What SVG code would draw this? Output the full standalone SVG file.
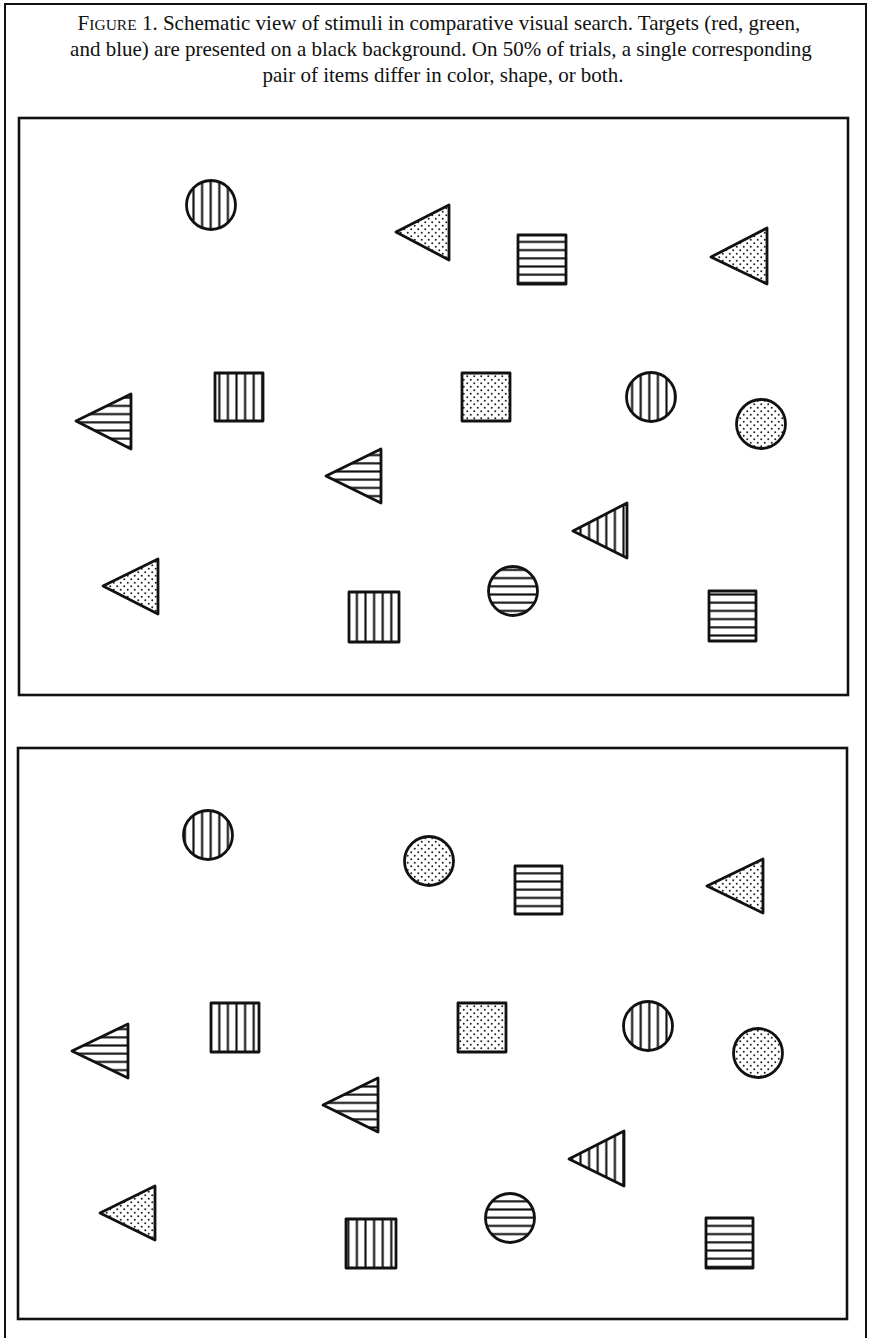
<svg xmlns="http://www.w3.org/2000/svg" width="871" height="1338" viewBox="0 0 871 1338">
<style>
.cap{font-family:"Liberation Serif","Times New Roman",serif;font-size:21px;fill:#111;text-anchor:middle}
.sc{font-size:15.5px}
.frame{fill:none;stroke:#111;stroke-width:2}
.panel{fill:#fff;stroke:#111;stroke-width:2.6}
.s{stroke:#111;stroke-width:2.8;stroke-linejoin:round}
.v{fill:url(#vs)}
.h{fill:url(#hs)}
.d{fill:url(#dt)}
</style>
<defs>
<pattern id="vs" width="8.6" height="10" patternUnits="userSpaceOnUse">
<rect width="8.6" height="10" fill="#fff"/>
<line x1="4.3" y1="0" x2="4.3" y2="10" stroke="#111" stroke-width="2.1"/>
</pattern>
<pattern id="hs" width="10" height="8.2" patternUnits="userSpaceOnUse">
<rect width="10" height="8.2" fill="#fff"/>
<line x1="0" y1="4.1" x2="10" y2="4.1" stroke="#111" stroke-width="2.1"/>
</pattern>
<pattern id="dt" width="7" height="7" patternUnits="userSpaceOnUse">
<rect width="7" height="7" fill="#fff"/>
<circle cx="1.75" cy="1.75" r="1" fill="#222"/>
<circle cx="5.25" cy="5.25" r="1" fill="#222"/>
</pattern>
</defs>
<rect width="871" height="1338" fill="#fff"/>
<path class="frame" d="M5,1338 V4 H866 V1338"/>
<g id="caption">
<text class="cap" x="439" y="30">F<tspan class="sc">IGURE</tspan> 1.  Schematic view of stimuli in comparative visual search. Targets (red, green,</text>
<text class="cap" x="441" y="56">and blue) are presented on a black background. On 50% of trials, a single corresponding</text>
<text class="cap" x="443" y="82">pair of items differ in color, shape, or both.</text>
</g>
<g id="panel1">
<rect class="panel" x="19" y="118" width="829" height="577"/>
<g id="p1-circle-v1"><circle class="s v" cx="211" cy="205" r="24.5"/></g>
<g id="p1-tri-d1"><polygon class="s d" points="396,232 449,205 449,260"/></g>
<g id="p1-sq-h1"><rect class="s h" x="518" y="235" width="48" height="49"/></g>
<g id="p1-tri-d2"><polygon class="s d" points="711,257 767,228 767,284"/></g>
<g id="p1-tri-h1"><polygon class="s h" points="76,421 131,394 131,449"/></g>
<g id="p1-sq-v1"><rect class="s v" x="215" y="373" width="48" height="48"/></g>
<g id="p1-sq-d1"><rect class="s d" x="462" y="373" width="48" height="48"/></g>
<g id="p1-circle-v2"><circle class="s v" cx="651" cy="397" r="24.5"/></g>
<g id="p1-circle-d1"><circle class="s d" cx="761" cy="424" r="24.5"/></g>
<g id="p1-tri-h2"><polygon class="s h" points="326,476 381,449 381,503"/></g>
<g id="p1-tri-v1"><polygon class="s v" points="573,531 627,503 627,558"/></g>
<g id="p1-tri-d3"><polygon class="s d" points="103,586 158,559 158,614"/></g>
<g id="p1-sq-v2"><rect class="s v" x="349" y="592" width="50" height="50"/></g>
<g id="p1-circle-h1"><circle class="s h" cx="513" cy="591" r="24.5"/></g>
<g id="p1-sq-h2"><rect class="s h" x="709" y="591" width="47" height="50"/></g>
</g>
<g id="panel2">
<rect class="panel" x="18" y="748" width="829" height="571"/>
<g id="p2-circle-v1"><circle class="s v" cx="208" cy="835" r="24.5"/></g>
<g id="p2-circle-d1"><circle class="s d" cx="429" cy="861" r="24.5"/></g>
<g id="p2-sq-h1"><rect class="s h" x="515" y="866" width="47" height="48"/></g>
<g id="p2-tri-d1"><polygon class="s d" points="707,886 763,859 763,913"/></g>
<g id="p2-tri-h1"><polygon class="s h" points="72,1051 128,1024 128,1078"/></g>
<g id="p2-sq-v1"><rect class="s v" x="211" y="1003" width="48" height="49"/></g>
<g id="p2-sq-d1"><rect class="s d" x="458" y="1003" width="48" height="49"/></g>
<g id="p2-circle-v2"><circle class="s v" cx="648" cy="1026" r="24.5"/></g>
<g id="p2-circle-d2"><circle class="s d" cx="758" cy="1053" r="24.5"/></g>
<g id="p2-tri-h2"><polygon class="s h" points="323,1105 378,1078 378,1132"/></g>
<g id="p2-tri-v1"><polygon class="s v" points="569,1159 624,1131 624,1186"/></g>
<g id="p2-tri-d2"><polygon class="s d" points="100,1213 155,1186 155,1240"/></g>
<g id="p2-sq-v2"><rect class="s v" x="346" y="1219" width="50" height="49"/></g>
<g id="p2-circle-h1"><circle class="s h" cx="510" cy="1218" r="24.5"/></g>
<g id="p2-sq-h2"><rect class="s h" x="706" y="1218" width="47" height="50"/></g>
</g>
</svg>
